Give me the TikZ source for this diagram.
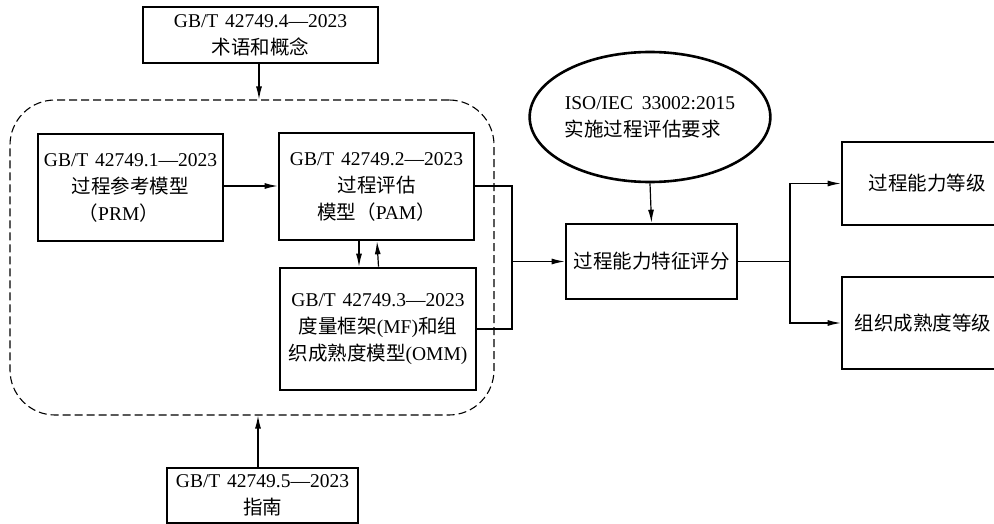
\documentclass[tikz,border=0pt]{standalone}
\usepackage{fontspec}
\setmainfont{Liberation Serif}
\newfontfamily\cjk{Noto Sans CJK SC}
\usetikzlibrary{arrows.meta,shapes.geometric}
\newcommand{\C}[1]{{\cjk #1}}
\newcommand{\G}[1]{GB/T\hspace{0.35em}42749.#1—2023}
\begin{document}
\begin{tikzpicture}[x=1pt,y=-1pt,
  box/.style={draw,line width=2.6pt,align=center,inner sep=0pt,font=\fontsize{19.5}{27}\selectfont},
  conn/.style={line width=1.2pt},
  arr/.style={conn,-{Latex[length=13pt,width=6pt]}}]
\useasboundingbox (0,0) rectangle (994,524);
\clip (0,0) rectangle (994,524);
\fill[white] (0,0) rectangle (994,524);
% dashed group
\node[draw,dashed,dash pattern=on 8pt off 4pt,line width=1.1pt,rounded corners=45pt,minimum width=484pt,minimum height=315pt,inner sep=0pt] (grp) at (252,257.5) {};
% boxes
\node[box,minimum width=235pt,minimum height=56pt] (t4) at (260.5,35) {\G{4}\\\C{术语和概念}};
\node[box,minimum width=185pt,minimum height=107pt] (b1) at (130.5,187.5) {\G{1}\\\C{过程参考模型}\\\hspace*{-1.2em}\C{（}PRM\C{）}};
\node[box,minimum width=195pt,minimum height=107pt] (b2) at (376.5,186.5) {\G{2}\\\C{过程评估}\\\C{模型（}PAM\C{）}};
\node[box,minimum width=196pt,minimum height=122pt] (b3) at (378,329) {\G{3}\\\C{度量框架}(MF)\C{和组}\\\C{织成熟度模型}(OMM)};
\node[box,minimum width=171pt,minimum height=75pt] (b4) at (651.5,261.5) {\C{过程能力特征评分}};
\node[box,ellipse,minimum width=218pt,minimum height=130pt,align=left] (ell) at (650,117) {ISO/IEC\hspace{0.45em}33002:2015\\\C{实施过程评估要求}};
\node[box,minimum width=170pt,minimum height=83pt] (b5) at (927,183.5) {\C{过程能力等级}};
\node[box,minimum width=170pt,minimum height=92pt] (b6) at (927,323) {\C{组织成熟度等级}\hspace*{8pt}};
\node[box,minimum width=191pt,minimum height=55pt] (t5) at (262.5,495.5) {\G{5}\\\C{指南}};
% connectors
\draw[arr] ([xshift=-1.5pt]t4.south) -- ([xshift=-1.5pt]t4.south |- grp.north);
\draw[arr] ([xshift=-4.5pt]t5.north) -- ([xshift=-4.5pt]t5.north |- grp.south);
\draw[arr] (b1.east |- 0,186) -- (b2.west |- 0,186);
\draw[arr] ([xshift=-17.5pt]b2.south) -- ([xshift=-17.5pt]b2.south |- b3.north);
\draw[arr] ([xshift=0.5pt]b3.north |- b3.north) -- ([xshift=0.5pt]b2.south);
\coordinate (jn) at (512,261.5);
\draw[conn] (b2.east |- 0,186) -| (jn);
\draw[conn] (b3.east) -| (jn);
\draw[arr] (jn) -- (b4.west);
\draw[arr] (ell.south) -- (b4.north);
\coordinate (sp) at (790,261.5);
\draw[conn] (b4.east) -- (sp);
\draw[arr] (sp) |- (b5.west);
\draw[arr] (sp) |- (b6.west);
\end{tikzpicture}
\end{document}
